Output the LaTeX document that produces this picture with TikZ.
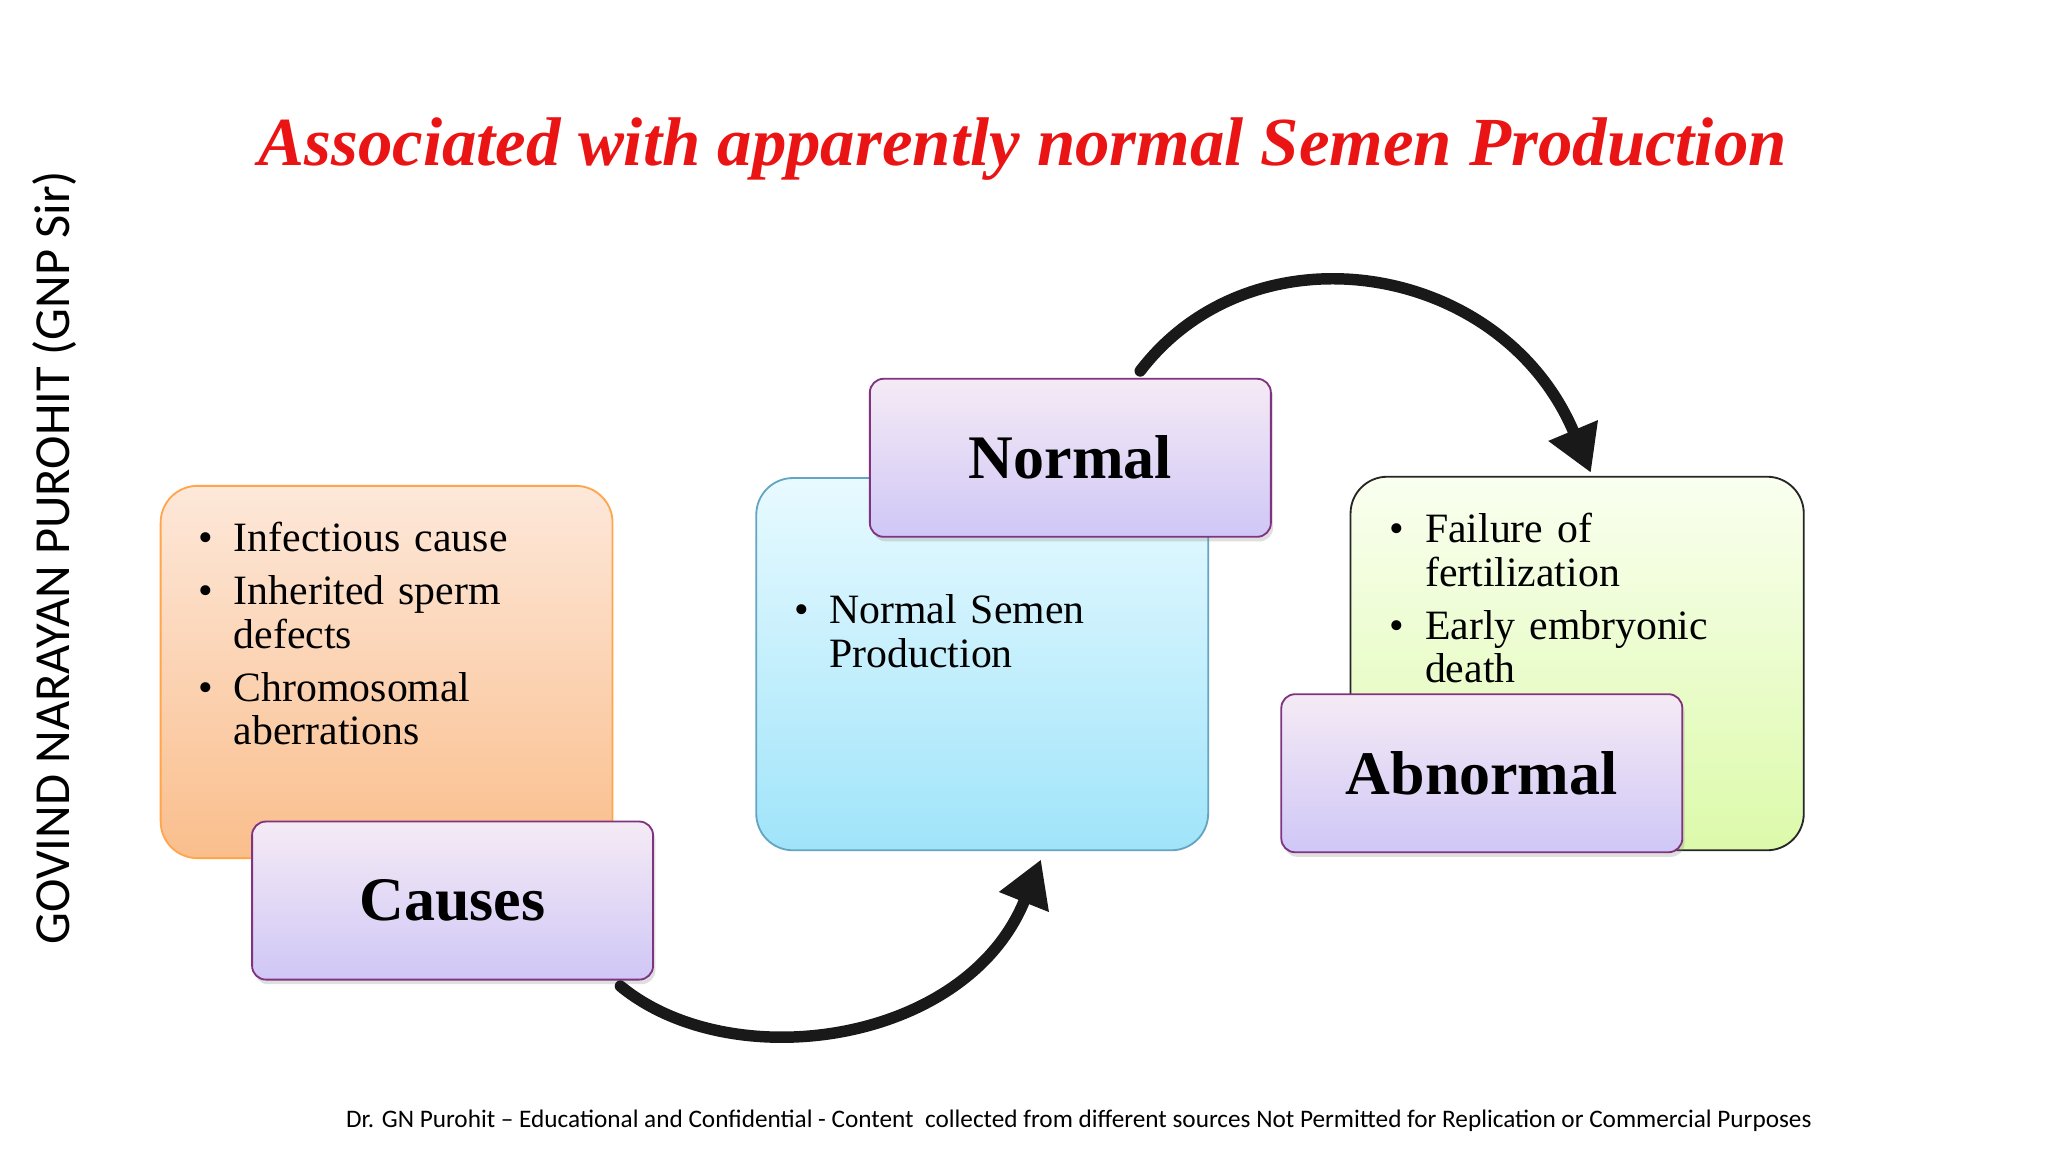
\documentclass[tikz,border=0pt]{standalone}
\usepackage{fontspec}
\setmainfont{Liberation Serif}
\newfontfamily\calib{Carlito}
\usepackage{enumitem}
\usetikzlibrary{arrows.meta,shadows}
\definecolor{ttl}{RGB}{235,20,20}
\definecolor{orT}{RGB}{253,232,218}
\definecolor{orB}{RGB}{250,190,140}
\definecolor{blT}{RGB}{232,250,255}
\definecolor{blB}{RGB}{160,228,250}
\definecolor{grT}{RGB}{250,255,240}
\definecolor{grB}{RGB}{220,250,170}
\tikzset{
 box/.style={rounded corners=16pt, line width=0.8pt, align=left, inner sep=0pt},
 lbl/.style={rounded corners=6pt, draw=violet!60!gray, line width=0.8pt, top color=violet!8, bottom color=violet!30!blue!22, font=\bfseries\fontsize{27}{30}\selectfont, drop shadow={opacity=0.25,shadow xshift=1pt,shadow yshift=-2pt}},
 carrow/.style={line width=5pt, -{Triangle[length=20pt,width=22pt]}, black!90, line cap=round},
 blist/.style={text width=#1, align=left, font=\fontsize{18.2}{19}\selectfont}
}
\newcommand{\mylist}[1]{\raggedright\begin{itemize}[leftmargin=17pt,labelsep=9pt,itemsep=4pt,topsep=0pt,parsep=0pt,label=\textbullet]#1\end{itemize}}
\begin{document}
\begin{tikzpicture}[x=0.02cm,y=-0.02cm]
\useasboundingbox (0,0) rectangle (1568,884);
\fill[white] (0,0) rectangle (1568,884);
\node (title) at (783,114) {\color{ttl}\bfseries\itshape\fontsize{30}{34}\selectfont Associated with apparently normal Semen Production};
\node[rotate=90] (side) at (42,427) {\calib\fontsize{22}{26}\selectfont GOVIND NARAYAN PUROHIT (GNP Sir)};
\node (foot) at (826,858) {\calib\fontsize{11}{13}\selectfont Dr. GN Purohit \textendash{} Educational and Confidential - Content\ \ collected from different sources Not Permitted for Replication or Commercial Purposes};
% boxes
\draw[box, draw=orange!70, top color=orT, bottom color=orB] (123,372) rectangle (469,657);
\draw[box, draw=cyan!50!gray, top color=blT, bottom color=blB] (579,366) rectangle (925,651);
\draw[box, draw=black!85, top color=grT, bottom color=grB] (1034,365) rectangle (1381,651);
\node[anchor=north west, blist=170pt] (l1) at (143,383) {\mylist{\item Infectious cause \item Inherited sperm defects \item Chromosomal aberrations}};
\node[anchor=north west, blist=150pt] (l2) at (599,438) {\mylist{\item Normal Semen Production}};
\node[anchor=north west, blist=160pt] (l3) at (1055,376) {\mylist{\item Failure of fertilization \item Early embryonic death}};
\node[lbl, minimum width=307*0.02cm, minimum height=121*0.02cm] (causes) at (346.5,689.5) {Causes};
\node[lbl, minimum width=307*0.02cm, minimum height=121*0.02cm] (normal) at (819.5,350.5) {Normal};
\node[lbl, minimum width=307*0.02cm, minimum height=121*0.02cm] (abn) at (1134.5,592) {Abnormal};
\coordinate (a1s) at (475,755); \coordinate (a1e) at (797,658);
\coordinate (a2s) at (873,284); \coordinate (a2e) at (1218,362);
\draw[carrow] (a1s) .. controls (560,825) and (740,800) .. (a1e);
\draw[carrow] (a2s) .. controls (960,170) and (1150,200) .. (a2e);
\end{tikzpicture}
\end{document}
